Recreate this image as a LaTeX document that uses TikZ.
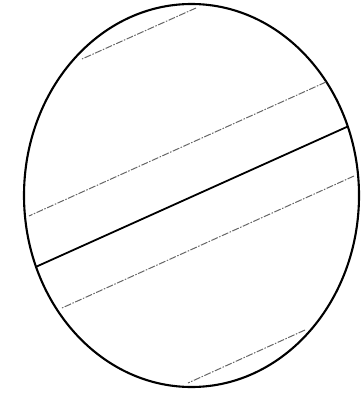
\documentclass[tikz,border=0pt]{standalone}
\begin{document}
\begin{tikzpicture}[x=1pt,y=-1pt,
  outline/.style={line width=2.1pt,black},
  axisline/.style={line width=1.8pt,black},
  hatch/.style={line width=1pt,black!60,dash pattern=on 7pt off 1.5pt on 1.5pt off 1.5pt}]
\useasboundingbox (0,0) rectangle (363,395);
\coordinate (c) at (191.5,195.5);
\begin{scope}
  \clip (c) ellipse [x radius=167.5, y radius=191.5];
  \draw[axisline] (380,112) -- (0,283);
\end{scope}
\draw[outline] (c) ellipse [x radius=167.5, y radius=191.5];
\coordinate (a1) at (196,8);   \coordinate (b1) at (82,59);
\coordinate (a2) at (326,82);  \coordinate (b2) at (29,216);
\coordinate (a3) at (354,176); \coordinate (b3) at (62,308);
\coordinate (a4) at (305,330); \coordinate (b4) at (188,383);
\draw[hatch] (a1) -- (b1);
\draw[hatch] (a2) -- (b2);
\draw[hatch] (a3) -- (b3);
\draw[hatch] (a4) -- (b4);
\end{tikzpicture}
\end{document}
